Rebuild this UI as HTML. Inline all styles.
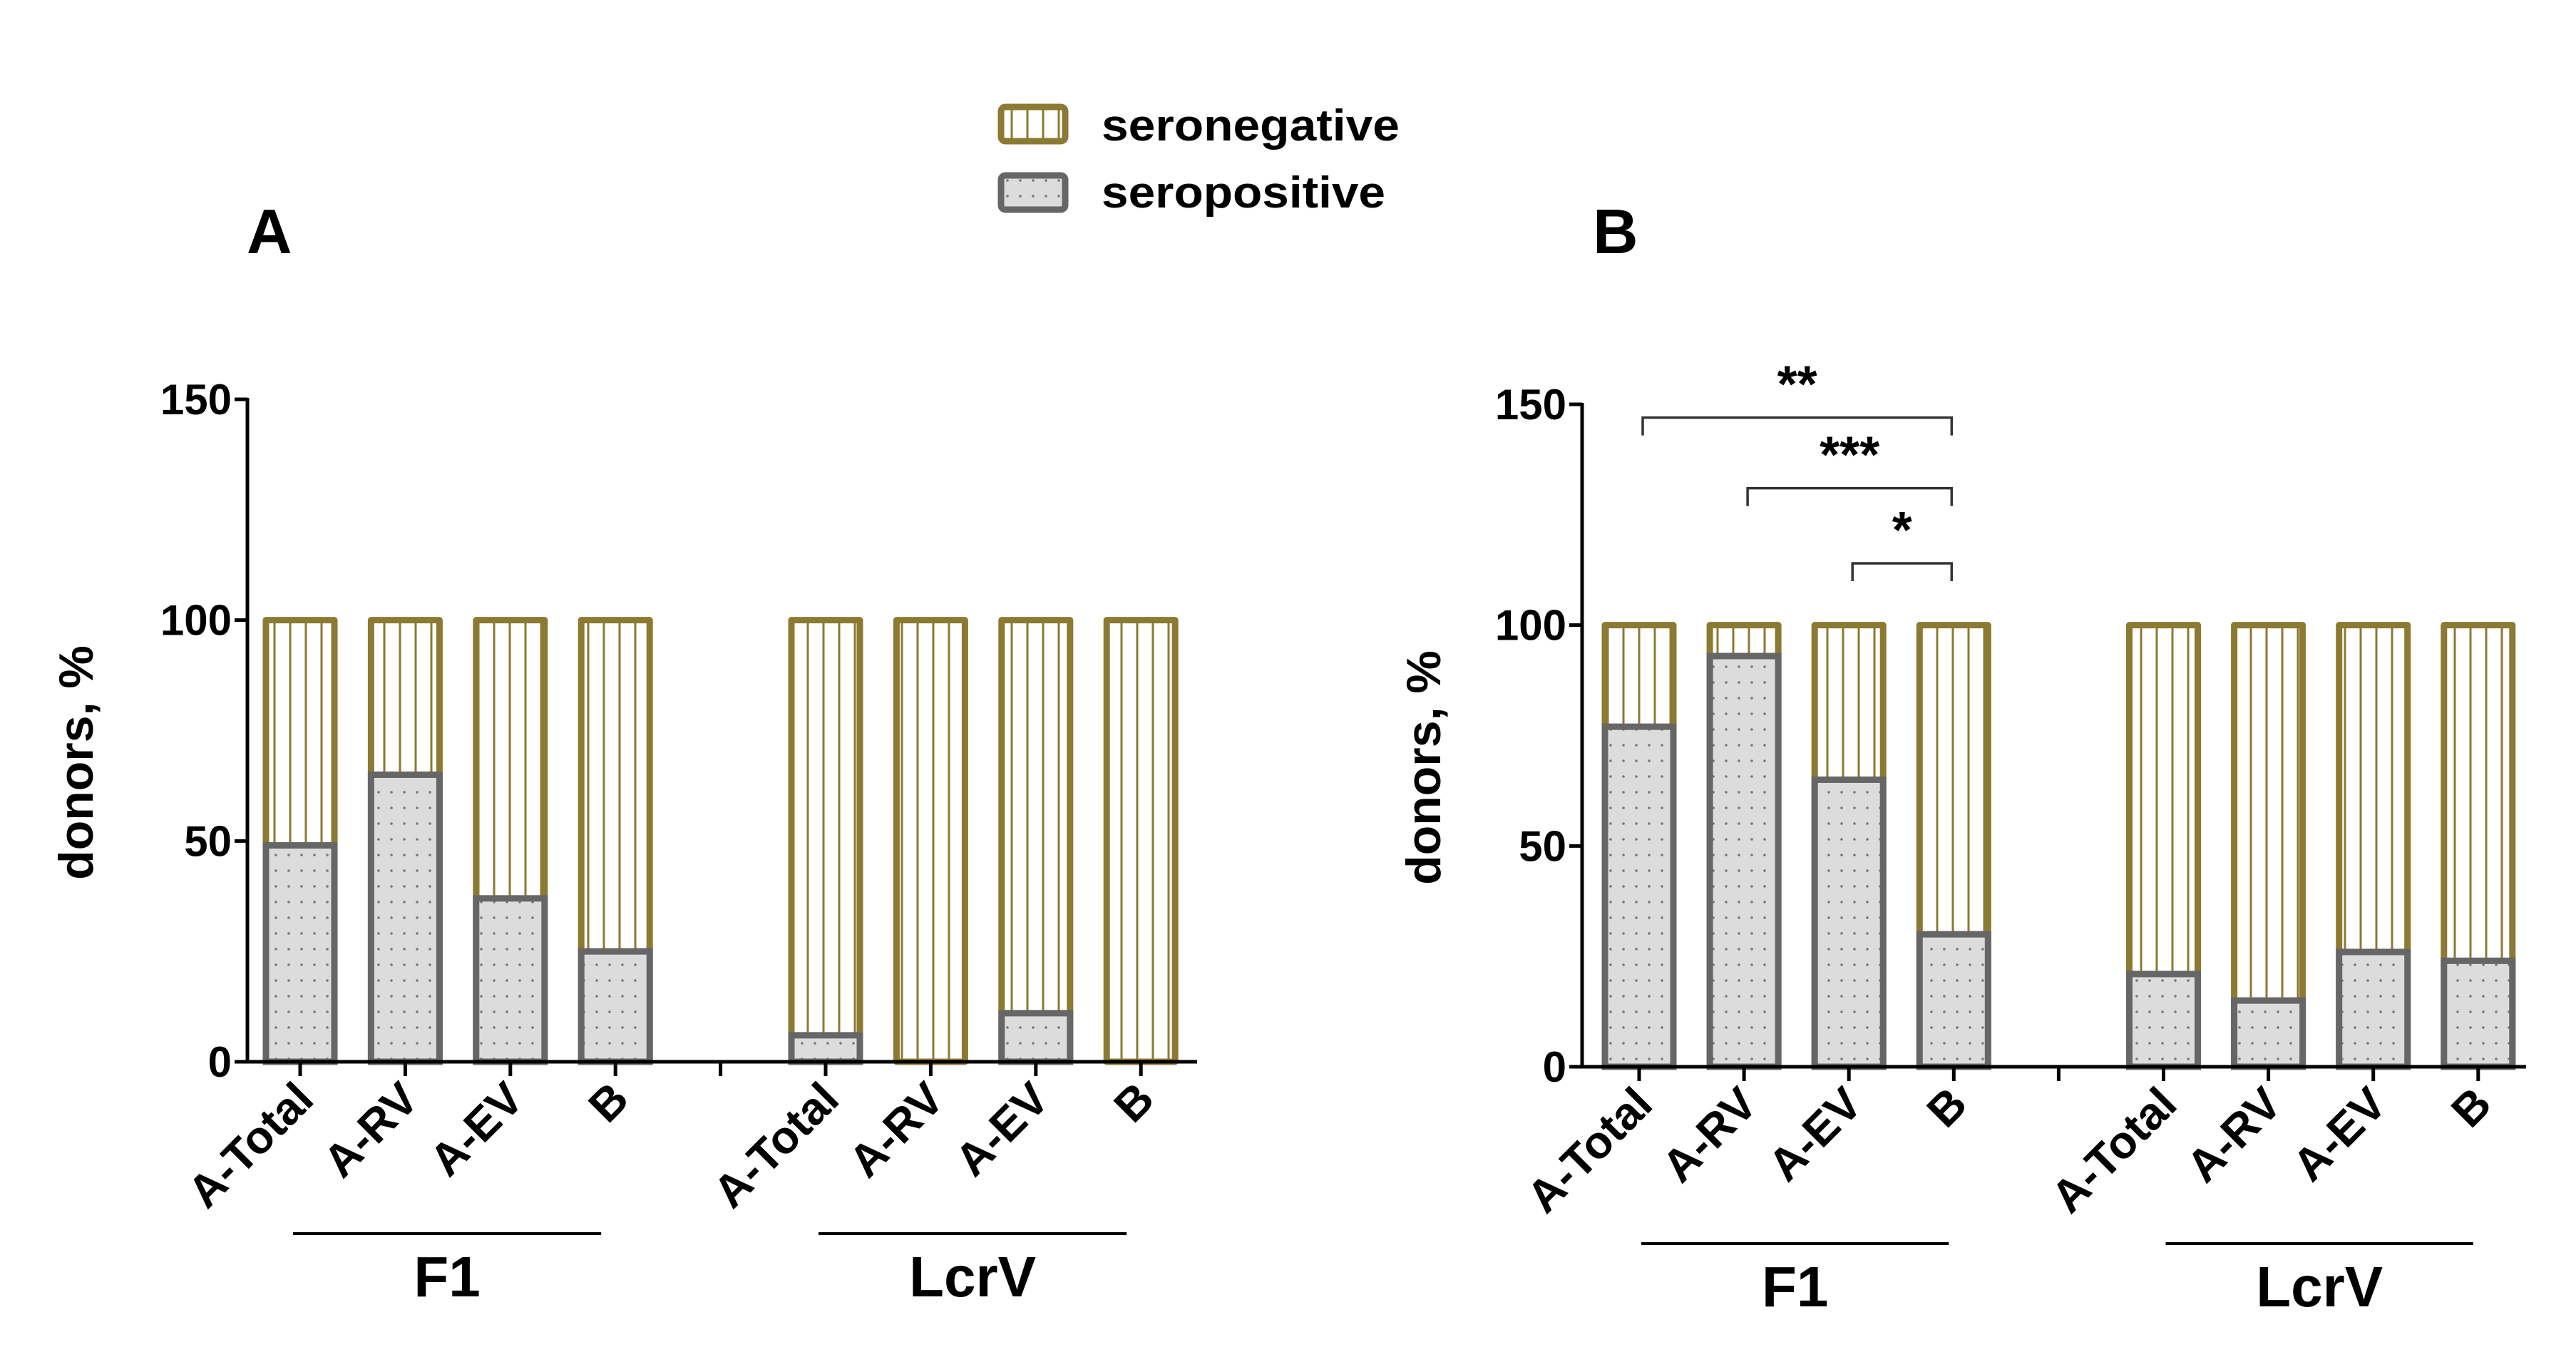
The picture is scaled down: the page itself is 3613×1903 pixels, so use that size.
<!DOCTYPE html>
<html><head><meta charset="utf-8"><style>
html,body{margin:0;padding:0;background:#fff;}
svg{display:block;font-family:"Liberation Sans",Arial,sans-serif;}
</style></head><body>
<svg id="chart" width="3613" height="1903" viewBox="0 0 3613 1903" xmlns="http://www.w3.org/2000/svg">
<defs>
<pattern id="vlines" patternUnits="userSpaceOnUse" width="22" height="20" x="0" y="0">
<rect width="22" height="20" fill="#fff"/><line x1="11" y1="0" x2="11" y2="20" stroke="#8c7a32" stroke-width="3"/>
</pattern>
<pattern id="dots" patternUnits="userSpaceOnUse" width="18" height="22">
<rect width="18" height="22" fill="#dcdcdc"/><circle cx="9" cy="11" r="1.8" fill="#777"/>
</pattern>
</defs>
<g id="legend">
<rect x="1404" y="150" width="90" height="48" rx="6" fill="url(#vlines)" stroke="#8c7a32" stroke-width="9"/>
<text x="1545" y="197" font-size="62" font-weight="bold" textLength="418" lengthAdjust="spacingAndGlyphs">seronegative</text>
<rect x="1404" y="246" width="90" height="48" rx="6" fill="url(#dots)" stroke="#666" stroke-width="9"/>
<text x="1545" y="291" font-size="62" font-weight="bold" textLength="398" lengthAdjust="spacingAndGlyphs">seropositive</text>
</g>
<g id="panelA"></g>
<g id="panelB"></g>
</svg>
<script>
const categories = ["A-Total","A-RV","A-EV","B","A-Total","A-RV","A-EV","B"];
const groupLabels = ["F1","LcrV"];
const yTicks = [0,50,100,150];
const panelA_seropositive = [49,65,37,25,6,0,11,0];
const panelB_seropositive = [77,93,65,30,21,15,26,24];
const total = [100,100,100,100,100,100,100,100];
const panelB_brackets = [[0,3,"**",147],[1,3,"***",131],[2,3,"*",114]];

const NS="http://www.w3.org/2000/svg";
function mk(tag,attrs,parent,txt){const e=document.createElementNS(NS,tag);for(const k in attrs)e.setAttribute(k,attrs[k]);if(txt!==undefined)e.textContent=txt;parent.appendChild(e);return e;}

function drawPanel(g,cfg,values,brackets){
  const y=v=>cfg.y0-(v/150)*(cfg.y0-cfg.y150);
  const xi=i=>cfg.x0+cfg.step*(i<4?i:i+1);
  const bw=96;
  let t=mk("text",{x:cfg.letterX,y:355,"font-size":88,"font-weight":"bold"},g,cfg.letter);
  
  
  t=mk("text",{x:0,y:0,"font-size":68,"font-weight":"bold","text-anchor":"middle",transform:`translate(${cfg.titleX},${(cfg.y0+cfg.y150)/2+45}) rotate(-90)`},g,"donors, %");
  
  
  values.forEach((v,i)=>{
    const cx=xi(i);
    let r=mk("rect",{x:cx-bw/2,y:y(total[i]),width:bw,height:y(0)-y(total[i]),fill:"url(#vlines)",stroke:"#8c7a32","stroke-width":9,"stroke-linejoin":"round"},g);
    
    
    if(v>0){
      r=mk("rect",{x:cx-bw/2,y:y(v),width:bw,height:y(0)-y(v),fill:"url(#dots)",stroke:"#666","stroke-width":9},g);
      
      
    }
    const tl=mk("text",{x:0,y:0,"font-size":64,"font-weight":"bold","text-anchor":"end",transform:`translate(${cx+22},${cfg.y0+56}) rotate(-45)`},g,categories[i]);
    
    
  });
  let a=mk("line",{x1:cfg.axisX,y1:y(0),x2:cfg.xEnd,y2:y(0),stroke:"#000","stroke-width":5},g);
  
  
  a=mk("line",{x1:cfg.axisX,y1:y(150)-2,x2:cfg.axisX,y2:y(0)+2,stroke:"#000","stroke-width":5},g);
  
  
  for(let i=0;i<9;i++){
    const tx=cfg.x0+cfg.step*i;
    const tk=mk("line",{x1:tx,y1:y(0),x2:tx,y2:y(0)+20,stroke:"#000","stroke-width":5},g);
    
    
  }
  yTicks.forEach(v=>{
    const tk=mk("line",{x1:cfg.axisX-18,y1:y(v),x2:cfg.axisX,y2:y(v),stroke:"#000","stroke-width":5},g);
    
    
    const tl=mk("text",{x:cfg.axisX-22,y:y(v)+21,"font-size":60,"text-anchor":"end","font-weight":"bold"},g,String(v));
    
    
  });
  groupLabels.forEach((gl,k)=>{
    const l=xi(k*4)-10+cfg.gOff, r=xi(k*4+3)-20+cfg.gOff;
    const ln=mk("line",{x1:l,y1:cfg.groupY,x2:r,y2:cfg.groupY,stroke:"#000","stroke-width":4},g);
    
    
    const tl=mk("text",{x:(l+r)/2,y:cfg.groupY+88,"font-size":80,"font-weight":"bold","text-anchor":"middle"},g,gl);
    
    
  });
  brackets.forEach(b=>{
    const x1=xi(b[0])+5,x2=xi(b[1])-3,by=y(b[3]);
    const p=mk("path",{d:`M${x1},${by+25}V${by}H${x2}V${by+25}`,fill:"none",stroke:"#333","stroke-width":3.5},g);
    
    
    const st=mk("text",{x:(x1+x2)/2,y:by-22,"font-size":72,"text-anchor":"middle","font-weight":"bold"},g,b[2]);
    
    
  });
}
drawPanel(document.getElementById("panelA"),{x0:421,step:147.4,y0:1489,y150:560,axisX:347,xEnd:1679,letter:"A",letterX:346,titleX:130,groupY:1730,gOff:0},panelA_seropositive,[]);
drawPanel(document.getElementById("panelB"),{x0:2299,step:147.1,y0:1496,y150:567,axisX:2219,xEnd:3543,letter:"B",letterX:2234,titleX:2020,groupY:1744,gOff:13},panelB_seropositive,panelB_brackets);
</script>
</body></html>
